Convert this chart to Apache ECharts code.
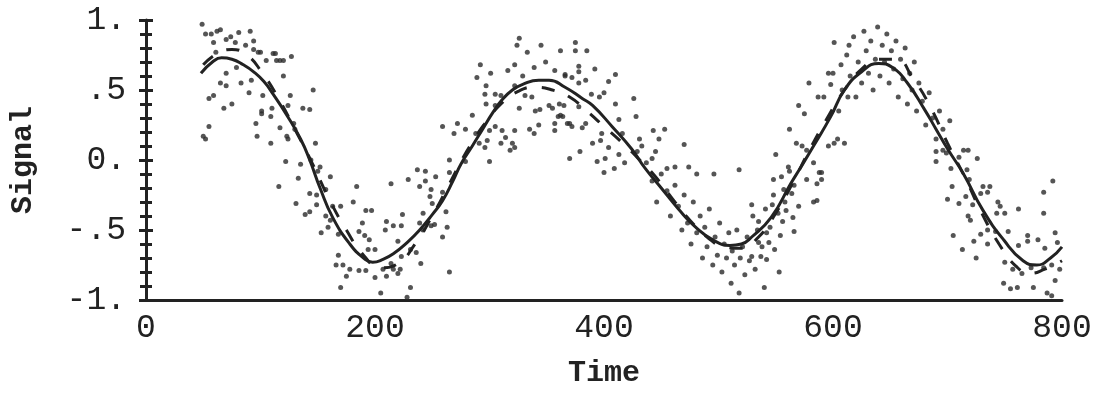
<!DOCTYPE html>
<html style="height: 100%">
<head>
<meta charset="utf-8">
<script src="https://cdn.jsdelivr.net/npm/echarts@6/dist/echarts.min.js"></script>
</head>
<body style="height: 100%; margin: 0; background: #fff">
<div id="container" style="width: 1099px; height: 393px"></div>
<script type="text/javascript">
// tick labels
var xTicks = [0, 200, 400, 600, 800];
var yTickText = {'-1': '-1.', '-0.5': '-.5', '0': '0.', '0.5': '.5', '1': '1.'};

// fitted curve (solid)
var fitLine = [
  [48, 0.62], [58, 0.70], [66, 0.73], [75, 0.72], [85, 0.68], [94, 0.63], [103, 0.56],
  [111, 0.47], [123, 0.32], [135, 0.15], [143, 0.0], [152, -0.2], [163, -0.41],
  [178, -0.6], [190, -0.7], [198, -0.73], [207, -0.71], [216, -0.67], [228, -0.59],
  [239, -0.5], [250, -0.39], [259, -0.29], [268, -0.15], [275, -0.03], [285, 0.1],
  [294, 0.22], [303, 0.34], [311, 0.43], [320, 0.5], [329, 0.54], [343, 0.57],
  [352, 0.57], [366, 0.52], [381, 0.44], [390, 0.39], [407, 0.24], [424, 0.08],
  [436, -0.06], [450, -0.2], [465, -0.35], [480, -0.48], [495, -0.57], [510, -0.61],
  [520, -0.6], [529, -0.55], [546, -0.41], [563, -0.17], [572, -0.05], [583, 0.1],
  [598, 0.31], [610, 0.5], [625, 0.63], [640, 0.69], [652, 0.66], [665, 0.55],
  [680, 0.36], [690, 0.22], [700, 0.08], [714, -0.1], [731, -0.36], [749, -0.57],
  [766, -0.72], [778, -0.75], [790, -0.7], [800, -0.62]
];

// true signal (dashed)
var trueLine = [
  [50, 0.68], [62, 0.76], [75, 0.79], [88, 0.75], [100, 0.64], [115, 0.45], [130, 0.22],
  [145, -0.02], [160, -0.28], [175, -0.5], [190, -0.68], [205, -0.77], [220, -0.74],
  [235, -0.6], [250, -0.4], [265, -0.17], [280, 0.06], [295, 0.25], [310, 0.4],
  [325, 0.49], [340, 0.52], [355, 0.5], [370, 0.45], [385, 0.35], [400, 0.24],
  [415, 0.13], [430, 0.01], [445, -0.12], [460, -0.28], [475, -0.43], [490, -0.55],
  [505, -0.62], [520, -0.63], [535, -0.55], [550, -0.38], [565, -0.16], [580, 0.08],
  [595, 0.3], [610, 0.5], [625, 0.65], [640, 0.72], [655, 0.72], [670, 0.58],
  [685, 0.38], [700, 0.12], [715, -0.12], [730, -0.38], [745, -0.6], [760, -0.76],
  [772, -0.81], [785, -0.78], [800, -0.72]
];

// noisy observations
var obs = [
  [49, 0.97], [52, 0.9], [57, 0.9], [62, 0.92], [65, 0.93], [81, 0.91], [91, 0.92],
  [59, 0.84], [70, 0.86], [74, 0.88], [78, 0.84], [87, 0.82], [94, 0.85], [94, 0.79],
  [98, 0.77], [61, 0.77], [100, 0.77], [111, 0.76], [113, 0.76], [117, 0.71], [105, 0.71],
  [114, 0.71], [120, 0.71], [127, 0.74], [120, 0.6], [146, 0.5], [70, 0.62], [79, 0.66],
  [65, 0.55], [70, 0.53], [83, 0.55], [92, 0.57], [90, 0.48], [102, 0.46], [126, 0.46],
  [59, 0.46], [55, 0.44], [75, 0.4], [68, 0.37], [110, 0.37], [124, 0.39], [137, 0.37],
  [143, 0.36], [101, 0.33], [109, 0.31], [101, 0.35], [55, 0.24], [50, 0.17], [52, 0.15],
  [96, 0.26], [97, 0.17], [109, 0.12], [117, 0.23], [129, 0.26], [130, 0.22], [123, 0.17],
  [124, 0.15], [148, 0.12], [122, -0.01], [135, -0.03], [144, 0.0], [152, -0.05],
  [150, -0.08], [259, 0.24], [265, 0.0], [237, -0.07], [244, -0.08], [265, -0.09],
  [116, -0.19], [133, -0.13], [161, -0.12], [157, -0.21], [143, -0.24], [149, -0.25],
  [131, -0.31], [149, -0.32], [163, -0.33], [170, -0.33], [143, -0.37], [139, -0.39],
  [157, -0.4], [161, -0.43], [159, -0.48], [153, -0.52], [168, -0.53], [181, -0.3],
  [184, -0.19], [192, -0.36], [197, -0.36], [189, -0.45], [186, -0.51], [191, -0.54],
  [195, -0.57], [200, -0.64], [194, -0.64], [168, -0.68], [166, -0.75], [172, -0.75],
  [178, -0.78], [186, -0.79], [192, -0.79], [175, -0.83], [200, -0.84], [207, -0.78],
  [210, -0.83], [216, -0.78], [222, -0.78], [220, -0.81], [170, -0.91], [231, -0.91],
  [210, -0.44], [216, -0.47], [223, -0.47], [224, -0.39], [209, -0.5], [220, -0.58],
  [231, -0.64], [223, -0.69], [214, -0.74], [236, -0.66], [240, -0.74], [242, -0.5],
  [249, -0.47], [259, -0.55], [263, -0.48], [239, -0.45], [242, -0.38], [214, -0.17],
  [229, -0.14], [239, -0.19], [244, -0.15], [249, -0.21], [253, -0.12], [259, -0.23],
  [248, -0.26], [250, -0.31], [262, -0.37], [252, -0.46], [205, -0.95], [228, -0.98],
  [265, -0.8],
  [326, 0.87], [324, 0.82], [333, 0.77], [345, 0.82], [362, 0.78], [375, 0.84], [375, 0.78],
  [292, 0.68], [322, 0.68], [349, 0.7], [339, 0.66], [378, 0.67], [316, 0.64], [301, 0.62],
  [289, 0.59], [329, 0.6], [357, 0.64], [366, 0.6], [372, 0.59], [378, 0.55], [297, 0.53],
  [322, 0.53], [296, 0.47], [305, 0.47], [310, 0.46], [331, 0.46], [337, 0.45], [297, 0.4],
  [305, 0.39], [326, 0.37], [340, 0.35], [344, 0.36], [352, 0.39], [361, 0.4], [355, 0.37],
  [364, 0.31], [378, 0.38], [285, 0.32], [357, 0.26], [370, 0.26], [372, 0.24], [343, 0.25],
  [269, 0.19], [272, 0.26], [279, 0.22], [288, 0.19], [300, 0.21], [305, 0.24], [311, 0.21],
  [322, 0.21], [335, 0.22], [339, 0.19], [357, 0.21], [291, 0.12], [298, 0.14], [310, 0.12],
  [314, 0.16], [320, 0.12], [322, 0.09], [296, 0.09], [318, 0.07], [279, -0.01], [300, -0.01],
  [370, 0.01], [379, 0.06],
  [385, 0.78], [392, 0.65], [366, 0.61], [378, 0.63], [384, 0.57], [410, 0.61], [404, 0.56],
  [389, 0.47], [400, 0.48], [396, 0.45], [426, 0.44], [410, 0.4], [365, 0.39], [360, 0.31],
  [362, 0.32], [368, 0.26], [384, 0.26], [381, 0.23], [428, 0.31], [413, 0.29], [398, 0.19],
  [416, 0.19], [443, 0.21], [453, 0.22], [390, 0.12], [397, 0.14], [404, 0.09], [431, 0.15],
  [448, 0.15], [433, 0.1], [470, 0.11], [394, -0.01], [401, 0.01], [413, 0.04], [429, 0.06],
  [418, -0.02], [442, 0.01], [437, -0.02], [445, 0.06], [409, -0.06], [400, -0.09],
  [455, -0.06], [462, -0.05], [474, -0.05], [496, -0.1], [518, -0.07], [481, -0.1],
  [442, -0.15], [446, -0.3], [450, -0.1], [455, -0.22], [458, -0.4], [462, -0.18], [465, -0.33],
  [468, -0.5], [470, -0.25], [473, -0.45], [476, -0.6], [478, -0.3], [481, -0.52], [484, -0.4],
  [486, -0.7], [488, -0.48], [490, -0.62], [492, -0.35], [495, -0.75], [497, -0.55],
  [499, -0.68], [501, -0.45], [503, -0.8], [505, -0.6], [507, -0.7], [509, -0.52], [511, -0.88],
  [512, -0.65], [514, -0.75], [516, -0.5], [518, -0.95], [519, -0.7], [521, -0.62],
  [523, -0.82], [525, -0.55], [527, -0.72], [530, -0.4], [532, -0.78], [534, -0.5],
  [538, -0.62], [541, -0.35], [545, -0.48], [548, -0.25], [552, -0.38], [555, -0.12],
  [558, -0.3], [562, -0.08], [566, -0.18],
  [601, 0.84], [600, 0.62], [596, 0.62], [607, 0.68], [579, 0.55], [598, 0.54], [614, 0.82],
  [587, 0.45], [592, 0.45], [570, 0.39], [575, 0.33], [562, 0.22], [568, 0.12], [573, 0.1],
  [577, 0.07], [596, 0.1], [601, 0.12], [604, 0.15], [610, 0.12], [613, 0.45], [550, 0.04],
  [561, -0.05], [583, -0.02], [590, -0.09],
  [605, 0.35], [608, 0.5], [612, 0.75], [615, 0.6], [618, 0.88], [620, 0.45], [622, 0.7],
  [625, 0.55], [627, 0.92], [629, 0.78], [631, 0.62], [633, 0.85], [635, 0.5], [637, 0.72],
  [639, 0.95], [641, 0.6], [643, 0.82], [645, 0.7], [647, 0.9], [649, 0.55], [651, 0.78],
  [653, 0.65], [655, 0.85], [657, 0.45], [659, 0.72], [661, 0.58], [663, 0.8], [665, 0.4],
  [667, 0.62], [669, 0.5], [671, 0.7], [673, 0.35], [675, 0.55], [678, 0.42], [681, 0.25],
  [684, 0.48], [687, 0.3], [690, 0.15], [693, 0.35], [696, 0.22], [699, 0.05], [702, 0.28],
  [548, -0.14], [588, -0.09], [590, -0.14], [577, -0.14], [586, -0.17], [557, -0.21],
  [564, -0.24], [529, -0.32], [547, -0.32], [570, -0.33], [559, -0.36], [565, -0.41],
  [583, -0.3], [586, -0.29], [535, -0.44], [556, -0.44], [566, -0.51], [554, -0.54],
  [542, -0.52], [535, -0.59], [544, -0.59], [549, -0.64], [529, -0.69], [537, -0.69],
  [542, -0.71], [553, -0.8], [540, -0.91],
  [690, 0.06], [696, 0.07], [714, 0.07], [718, 0.07], [690, -0.01], [710, 0.02], [726, 0.01],
  [703, -0.06], [717, -0.07], [719, -0.14], [704, -0.19], [731, -0.19], [737, -0.19],
  [716, -0.26], [729, -0.24], [735, -0.23], [792, -0.15], [784, -0.23], [700, -0.28],
  [710, -0.31], [722, -0.32], [744, -0.3], [746, -0.33], [743, -0.38], [750, -0.38],
  [762, -0.35], [784, -0.38], [718, -0.4], [720, -0.43], [735, -0.5], [742, -0.51],
  [753, -0.51], [729, -0.53], [705, -0.54], [723, -0.58], [735, -0.6], [762, -0.61],
  [770, -0.54], [770, -0.58], [779, -0.57], [785, -0.63], [794, -0.52], [796, -0.59],
  [713, -0.64], [725, -0.7], [750, -0.73], [757, -0.78], [765, -0.81], [773, -0.77],
  [784, -0.77], [791, -0.75], [798, -0.78], [794, -0.86], [775, -0.91], [761, -0.91],
  [755, -0.92], [787, -0.95], [791, -0.97], [749, -0.88]
];

var dom = document.getElementById('container');
var myChart = echarts.init(dom);
var ink = '#222';
var monoFont = '"Liberation Mono", "DejaVu Sans Mono", monospace';

var option = {
  backgroundColor: '#fff',
  animation: false,
  grid: { left: 141, right: 37, top: 20, bottom: 83 },
  xAxis: {
    type: 'value', min: 0, max: 800, interval: 200,
    name: 'Time', nameLocation: 'middle', nameGap: 58,
    nameTextStyle: { fontFamily: monoFont, fontSize: 30, fontWeight: 'bold', color: ink },
    axisLine: { onZero: false, lineStyle: { color: ink, width: 3 } },
    axisTick: { show: false },
    splitLine: { show: false },
    axisLabel: {
      margin: 12, fontFamily: monoFont, fontSize: 33, color: ink,
      formatter: function (v) { return xTicks.indexOf(v) >= 0 ? String(v) : ''; }
    }
  },
  yAxis: [
    {
      type: 'value', min: -1, max: 1, interval: 0.5,
      name: 'Signal', nameLocation: 'middle', nameGap: 108, nameRotate: 90,
      nameTextStyle: { fontFamily: monoFont, fontSize: 30, fontWeight: 'bold', color: ink },
      axisLine: { show: true, onZero: false, lineStyle: { color: ink, width: 3 } },
      axisTick: { show: true, length: 7, lineStyle: { color: ink, width: 3 } },
      minorTick: { show: true, splitNumber: 5, length: 6, lineStyle: { color: ink, width: 3 } },
      splitLine: { show: false },
      axisLabel: {
        margin: 20, fontFamily: monoFont, fontSize: 33, color: ink,
        formatter: function (v) { return yTickText[String(v)] || ''; }
      }
    },
    {
      type: 'value', min: -1, max: 1, interval: 0.5, position: 'left', offset: 0,
      axisLine: { show: false, onZero: false },
      axisTick: { show: true, inside: true, length: 7, lineStyle: { color: ink, width: 3 } },
      minorTick: { show: true, splitNumber: 5, length: 6, lineStyle: { color: ink, width: 3 } },
      splitLine: { show: false },
      axisLabel: { show: false }
    }
  ],
  series: [
    {
      name: 'obs', type: 'scatter', data: obs, symbolSize: 5,
      itemStyle: { color: '#2a2a2a' }, z: 2
    },
    {
      name: 'true', type: 'line', data: trueLine, smooth: true, showSymbol: false,
      lineStyle: { color: ink, width: 3, type: [13, 15] }, z: 3
    },
    {
      name: 'fit', type: 'line', data: fitLine, smooth: true, showSymbol: false,
      lineStyle: { color: ink, width: 3 }, z: 4
    }
  ]
};

if (option && typeof option === 'object') {
  myChart.setOption(option, true);
}
</script>
</body>
</html>
